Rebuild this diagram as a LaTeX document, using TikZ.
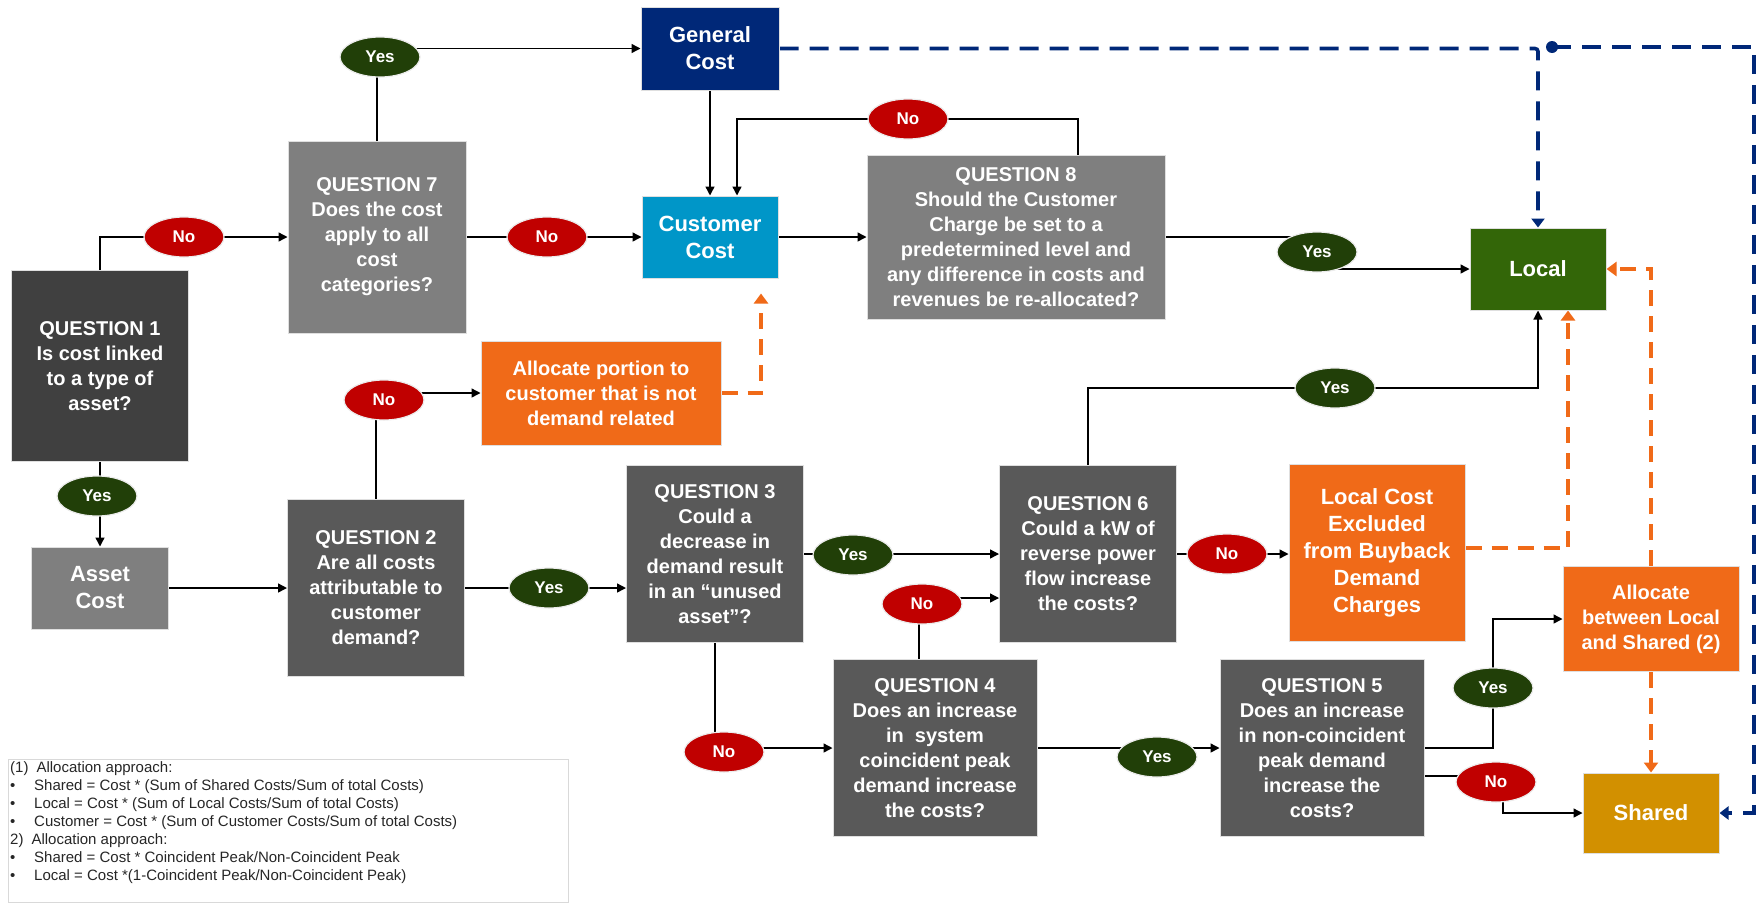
\documentclass[tikz,border=0pt]{standalone}
\usepackage{fontspec}
\setmainfont{Liberation Sans}
\usepackage{tikz}
\usetikzlibrary{arrows.meta,shapes.geometric,backgrounds}

\definecolor{qdark}{HTML}{404040}
\definecolor{qmid}{HTML}{595959}
\definecolor{qlight}{HTML}{7F7F7F}
\definecolor{gennavy}{HTML}{002878}
\definecolor{custblue}{HTML}{0096C8}
\definecolor{allocorange}{HTML}{F06A18}
\definecolor{localgreen}{HTML}{336608}
\definecolor{sharedgold}{HTML}{D29000}
\definecolor{yesgreen}{HTML}{213F08}
\definecolor{nored}{HTML}{C00000}

\begin{document}
\begin{tikzpicture}[
  x=1pt, y=-1pt,
  box/.style={rectangle, draw=gray!25, line width=1pt, text=white, align=center,
              inner sep=0pt, font=\bfseries\fontsize{20}{25}\selectfont},
  costbox/.style={box, font=\bfseries\fontsize{22}{27}\selectfont},
  answer/.style={ellipse, draw=gray!15, line width=1.2pt, text=white, inner sep=0pt,
                 minimum width=80pt, minimum height=40pt,
                 font=\bfseries\fontsize{17}{20}\selectfont},
  yesans/.style={answer, fill=yesgreen},
  noans/.style={answer, fill=nored},
  link/.style={line width=1.4pt, -{Triangle[length=9pt,width=9pt]}},
  navylink/.style={gennavy, line width=3.6pt, dash pattern=on 19pt off 11pt,
                   -{Triangle[length=9pt,width=13pt]}},
  orangelink/.style={allocorange, line width=3.6pt, dash pattern=on 16pt off 10pt,
                     -{Triangle[length=10pt,width=14pt]}},
]
\useasboundingbox (0,0) rectangle (1760,903);

% ---------- Questions ----------
\node[box, fill=qdark, minimum width=177pt, minimum height=191pt] (q1) at (100,366)
  {QUESTION 1\\Is cost linked\\to a type of\\asset?};
\node[box, fill=qlight, minimum width=178pt, minimum height=192pt] (q7) at (377,237)
  {QUESTION 7\\Does the cost\\apply to all\\cost\\categories?};
\node[box, fill=qlight, minimum width=298pt, minimum height=164pt] (q8) at (1016,237)
  {QUESTION 8\\Should the Customer\\Charge be set to a\\predetermined level and\\any difference in costs and\\revenues be re-allocated?};
\node[box, fill=qmid, minimum width=177pt, minimum height=177pt] (q2) at (376,588)
  {QUESTION 2\\Are all costs\\attributable to\\customer\\demand?};
\node[box, fill=qmid, minimum width=177pt, minimum height=177pt] (q3) at (715,554)
  {QUESTION 3\\Could a\\decrease in\\demand result\\in an “unused\\asset”?};
\node[box, fill=qmid, minimum width=204pt, minimum height=177pt] (q4) at (935,748)
  {QUESTION 4\\Does an increase\\in~ system\\coincident peak\\demand increase\\the costs?};
\node[box, fill=qmid, minimum width=177pt, minimum height=177pt] (q6) at (1088,554)
  {QUESTION 6\\Could a kW of\\reverse power\\flow increase\\the costs?};
\node[box, fill=qmid, minimum width=204pt, minimum height=177pt] (q5) at (1322,748)
  {QUESTION 5\\Does an increase\\in non-coincident\\peak demand\\increase the\\costs?};

% ---------- Cost boxes ----------
\node[costbox, fill=qlight, minimum width=137pt, minimum height=82pt] (asset) at (100,588) {Asset\\Cost};
\node[costbox, fill=gennavy, minimum width=138pt, minimum height=83pt] (gen) at (710,48.5) {General\\Cost};
\node[costbox, fill=custblue, minimum width=136pt, minimum height=82pt] (cust) at (710,237) {Customer\\Cost};
\node[costbox, fill=localgreen, minimum width=136pt, minimum height=82pt] (local) at (1538,269) {Local};
\node[costbox, fill=sharedgold, minimum width=136pt, minimum height=80pt] (shared) at (1651,813) {Shared};

% ---------- Allocation boxes ----------
\node[box, fill=allocorange, minimum width=240pt, minimum height=104pt] (allocp) at (601,393)
  {Allocate portion to\\customer that is not\\demand related};
\node[costbox, fill=allocorange, minimum width=176pt, minimum height=177pt] (lce) at (1377,553)
  {Local Cost\\Excluded\\from Buyback\\Demand\\Charges};
\node[box, fill=allocorange, minimum width=176pt, minimum height=105pt] (ab) at (1651,619)
  {Allocate\\between Local\\and Shared (2)};

% ---------- Answers ----------
\node[yesans] (yes7) at (380,57)   {Yes};
\node[noans]  (no1)  at (184,237)  {No};
\node[noans]  (no7)  at (547,237)  {No};
\node[noans]  (no8)  at (908,119)  {No};
\node[noans]  (no2)  at (384,400)  {No};
\node[yesans] (yes1) at (97,496)   {Yes};
\node[yesans] (yes2) at (549,588)  {Yes};
\node[yesans] (yes3) at (853,555)  {Yes};
\node[noans]  (no3)  at (724,752)  {No};
\node[noans]  (no4)  at (922,604)  {No};
\node[yesans] (yes4) at (1157,757) {Yes};
\node[noans]  (no6)  at (1227,554) {No};
\node[yesans] (yes5) at (1493,688) {Yes};
\node[noans]  (no5)  at (1496,782) {No};
\node[yesans] (yes8) at (1317,252) {Yes};
\node[yesans] (yes6) at (1335,388) {Yes};

\coordinate (split) at (1552,47);
\coordinate (rim) at (1754,813);

% ---------- Notes ----------
\node[draw=gray!30, line width=0.8pt, anchor=north west, minimum width=560pt,
      minimum height=143pt] (notes) at (8,759) {};
\node[anchor=north west, align=left, inner sep=0pt, text=black!85,
      font=\fontsize{15}{18}\selectfont] (notetext) at (10,761)
  {(1)\hspace{8pt}Allocation approach:\\
   \makebox[24pt][l]{\textbullet}Shared = Cost * (Sum of Shared Costs/Sum of total Costs)\\
   \makebox[24pt][l]{\textbullet}Local = Cost * (Sum of Local Costs/Sum of total Costs)\\
   \makebox[24pt][l]{\textbullet}Customer = Cost * (Sum of Customer Costs/Sum of total Costs)\\
   2)\hspace{8pt}Allocation approach:\\
   \makebox[24pt][l]{\textbullet}Shared = Cost * Coincident Peak/Non-Coincident Peak\\
   \makebox[24pt][l]{\textbullet}Local = Cost *(1-Coincident Peak/Non-Coincident Peak)};

% ---------- Arrows ----------
\begin{pgfonlayer}{background}
\draw[link] (q1.north) |- (q7.west);
\draw[link] (q7.north) |- (gen.west);
\draw[link] (q7.east) -- (cust.west);
\draw[link] (gen.south) -- (cust.north);
\draw[link] ([xshift=62pt]q8.north) |- (no8.center) -| ([xshift=27pt]cust.north);
\draw[link] (cust.east) -- (q8.west);
\draw[line width=1.4pt] (q8.east) -- (q8.east -| yes8.center);
\draw[link] (yes8.center |- local.west) -- (local.west);
\draw[link] (q6.north) |- (yes6.center) -| (local.south);

\draw[link] (q1.south) -- (asset.north);
\draw[link] (asset.east) -- (q2.west);
\draw[link] (q2.north) |- (allocp.west);
\draw[link] (q2.east) -- (q2.east -| q3.west);
\draw[link] (q3.east) -- (q6.west);
\draw[link] (q3.south) |- (q4.west);
\draw[link] ([xshift=-16pt]q4.north) |- ([yshift=-44pt]q6.west);
\draw[link] (q4.east) -- (q5.west);
\draw[link] (q6.east) -- (q6.east -| lce.west);
\draw[link] (q5.east) -| (yes5.center) |- (ab.west);
\draw[link] ([yshift=-28pt]q5.east) -| ([xshift=7pt]no5.center) |- (shared.west);

\draw[orangelink] (allocp.east) -| ([xshift=51pt, yshift=-15pt]cust.south);
\draw[orangelink] ([yshift=5pt]lce.east) -| ([xshift=30pt]local.south);
\draw[orangelink] (ab.north) |- (local.east);
\draw[orangelink] (ab.south) -- (shared.north);

\draw[navylink, rounded corners=3pt] (gen.east) -| (local.north);
\draw[navylink] (split) -| (rim) -- (shared.east);
\fill[gennavy] (split) circle (6pt);
\end{pgfonlayer}

\end{tikzpicture}
\end{document}
